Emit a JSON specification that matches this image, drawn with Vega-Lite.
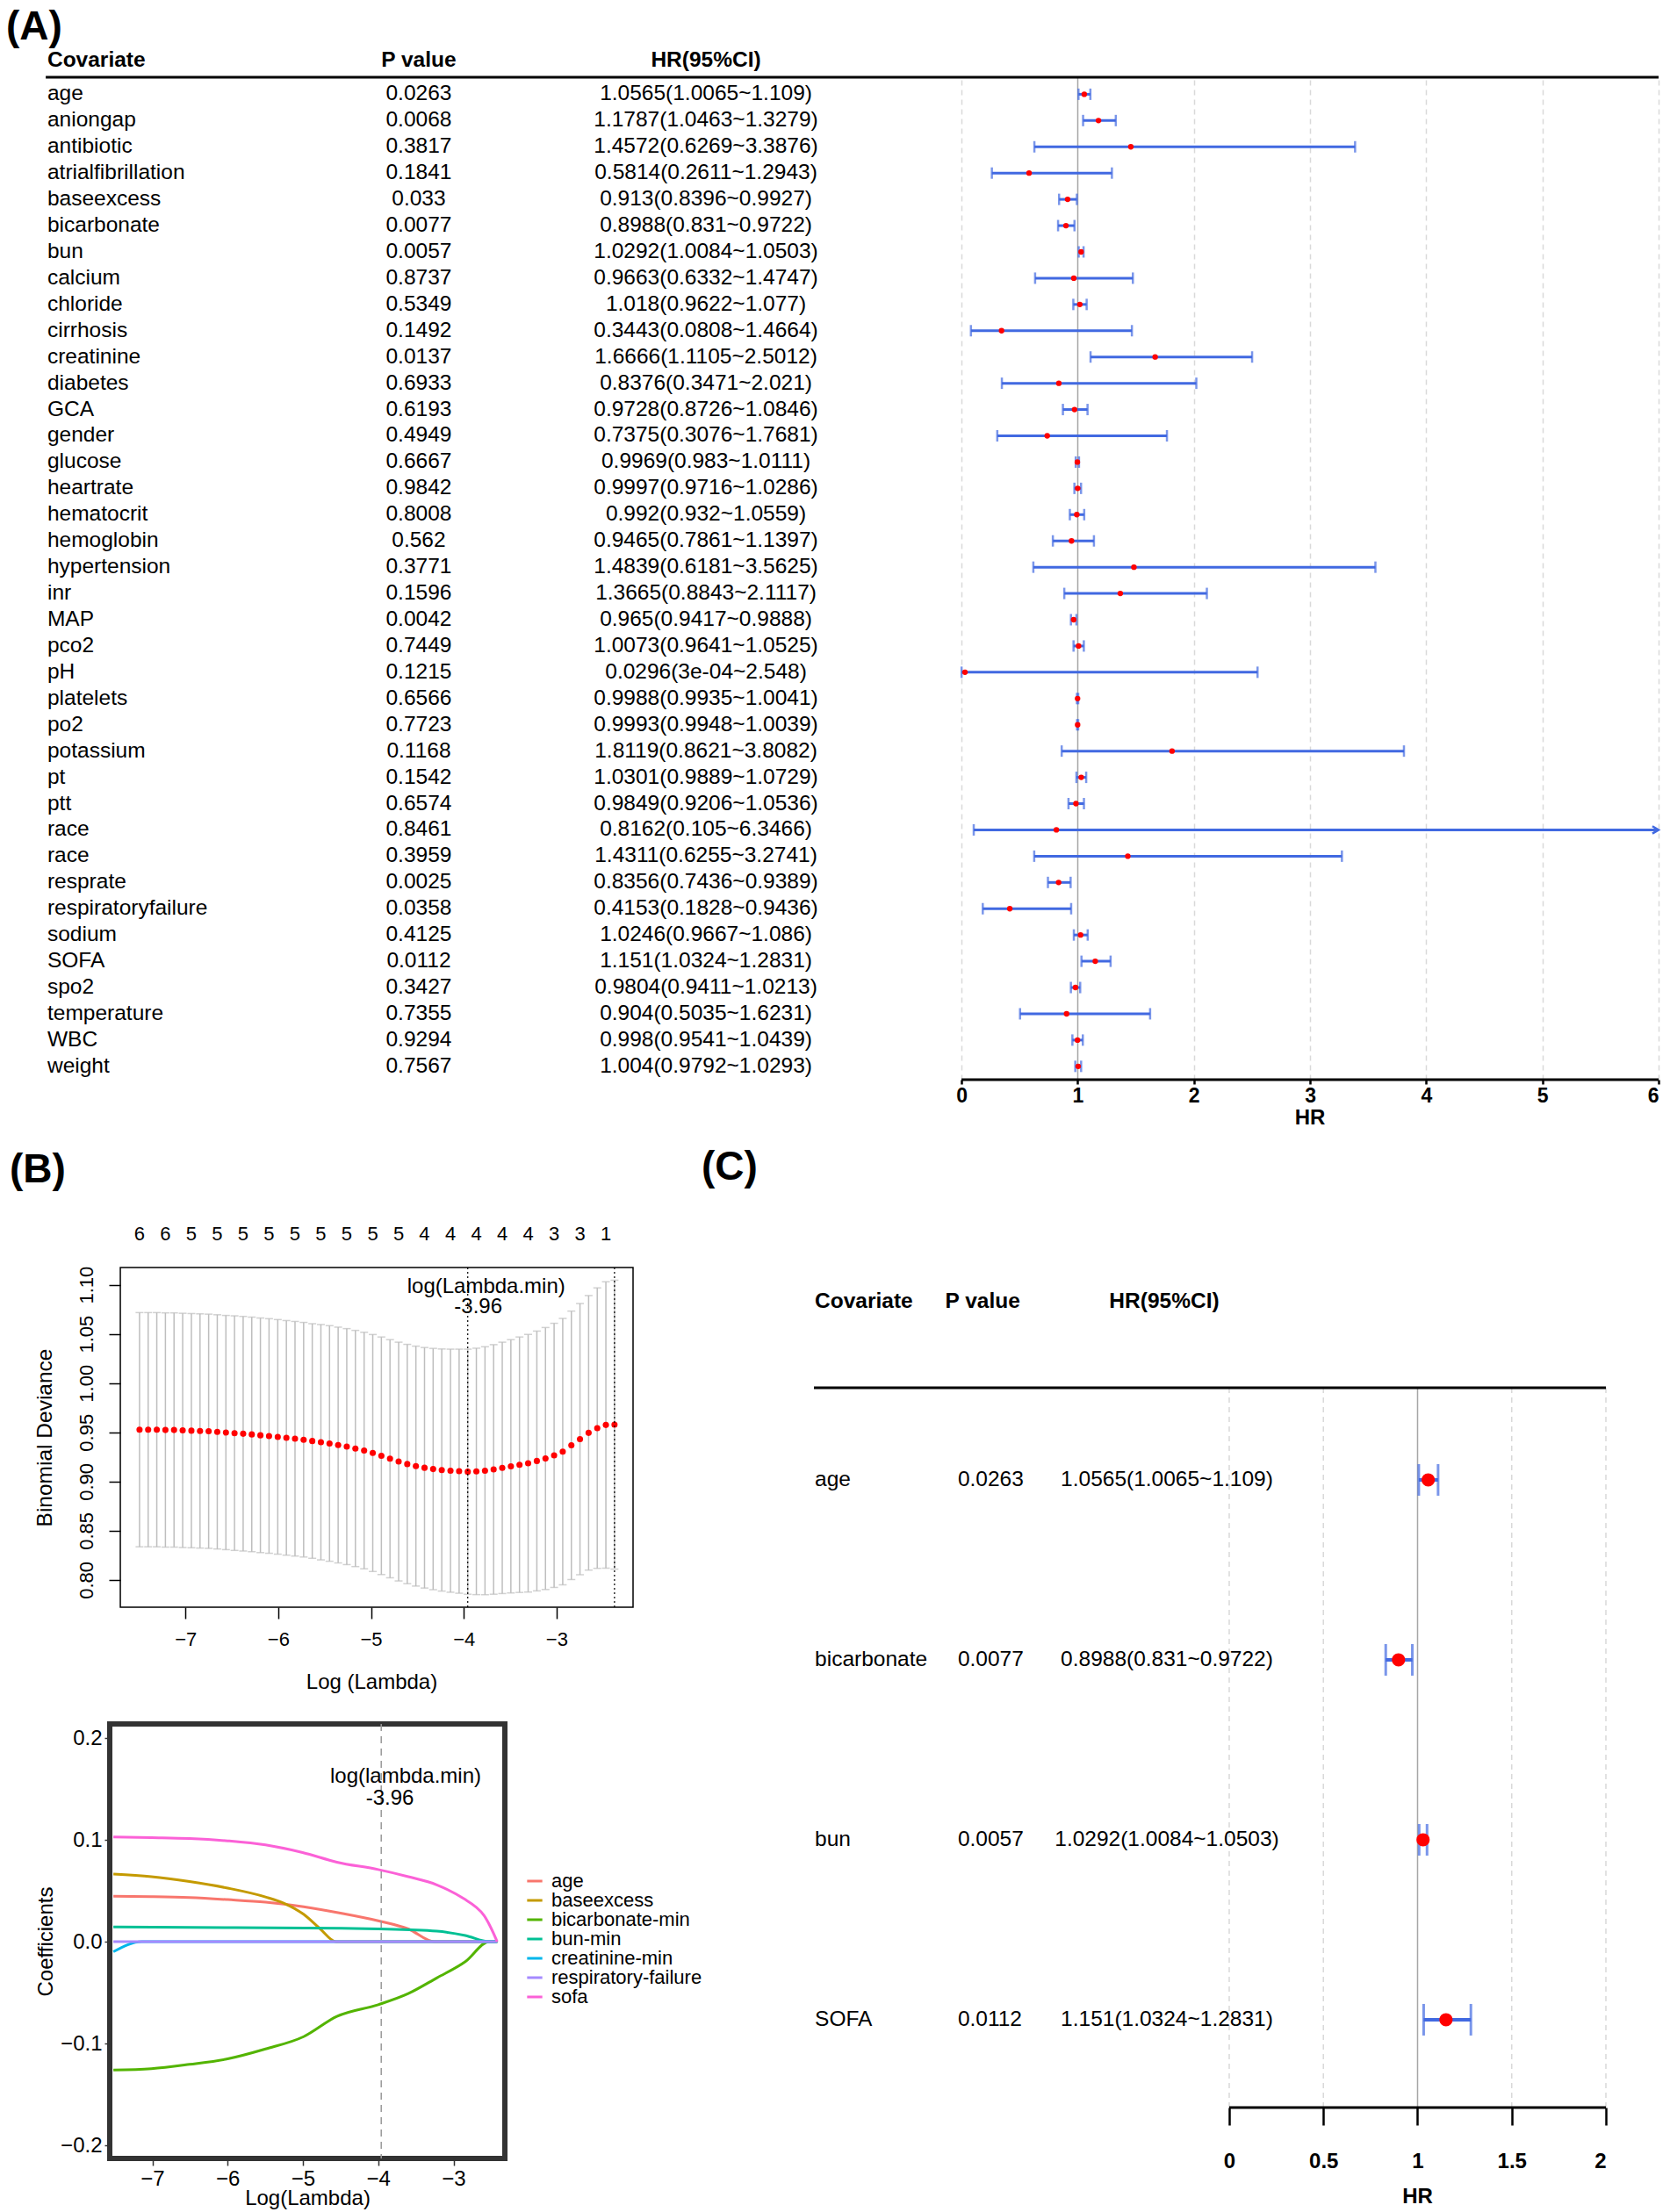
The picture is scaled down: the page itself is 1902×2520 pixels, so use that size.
{
"$schema":"https://vega.github.io/schema/vega-lite/v6.json",
"background":"white",
"padding":{"left":6,"top":7,"right":4,"bottom":4},
"bounds":"flush",
"spacing":802,
"config":{"font":"Liberation Sans","view":{"stroke":null},"axis":{"labelColor":"black","titleColor":"black","tickColor":"black","titleFontWeight":"normal","grid":false},"legend":{"labelColor":"black"}},
"datasets":{
"forestA":[
{"row":1,"cov":"age","p":"0.0263","txt":"1.0565(1.0065~1.109)","hr":1.0565,"lo":1.0065,"hi":1.109},
{"row":2,"cov":"aniongap","p":"0.0068","txt":"1.1787(1.0463~1.3279)","hr":1.1787,"lo":1.0463,"hi":1.3279},
{"row":3,"cov":"antibiotic","p":"0.3817","txt":"1.4572(0.6269~3.3876)","hr":1.4572,"lo":0.6269,"hi":3.3876},
{"row":4,"cov":"atrialfibrillation","p":"0.1841","txt":"0.5814(0.2611~1.2943)","hr":0.5814,"lo":0.2611,"hi":1.2943},
{"row":5,"cov":"baseexcess","p":"0.033","txt":"0.913(0.8396~0.9927)","hr":0.913,"lo":0.8396,"hi":0.9927},
{"row":6,"cov":"bicarbonate","p":"0.0077","txt":"0.8988(0.831~0.9722)","hr":0.8988,"lo":0.831,"hi":0.9722},
{"row":7,"cov":"bun","p":"0.0057","txt":"1.0292(1.0084~1.0503)","hr":1.0292,"lo":1.0084,"hi":1.0503},
{"row":8,"cov":"calcium","p":"0.8737","txt":"0.9663(0.6332~1.4747)","hr":0.9663,"lo":0.6332,"hi":1.4747},
{"row":9,"cov":"chloride","p":"0.5349","txt":"1.018(0.9622~1.077)","hr":1.018,"lo":0.9622,"hi":1.077},
{"row":10,"cov":"cirrhosis","p":"0.1492","txt":"0.3443(0.0808~1.4664)","hr":0.3443,"lo":0.0808,"hi":1.4664},
{"row":11,"cov":"creatinine","p":"0.0137","txt":"1.6666(1.1105~2.5012)","hr":1.6666,"lo":1.1105,"hi":2.5012},
{"row":12,"cov":"diabetes","p":"0.6933","txt":"0.8376(0.3471~2.021)","hr":0.8376,"lo":0.3471,"hi":2.021},
{"row":13,"cov":"GCA","p":"0.6193","txt":"0.9728(0.8726~1.0846)","hr":0.9728,"lo":0.8726,"hi":1.0846},
{"row":14,"cov":"gender","p":"0.4949","txt":"0.7375(0.3076~1.7681)","hr":0.7375,"lo":0.3076,"hi":1.7681},
{"row":15,"cov":"glucose","p":"0.6667","txt":"0.9969(0.983~1.0111)","hr":0.9969,"lo":0.983,"hi":1.0111},
{"row":16,"cov":"heartrate","p":"0.9842","txt":"0.9997(0.9716~1.0286)","hr":0.9997,"lo":0.9716,"hi":1.0286},
{"row":17,"cov":"hematocrit","p":"0.8008","txt":"0.992(0.932~1.0559)","hr":0.992,"lo":0.932,"hi":1.0559},
{"row":18,"cov":"hemoglobin","p":"0.562","txt":"0.9465(0.7861~1.1397)","hr":0.9465,"lo":0.7861,"hi":1.1397},
{"row":19,"cov":"hypertension","p":"0.3771","txt":"1.4839(0.6181~3.5625)","hr":1.4839,"lo":0.6181,"hi":3.5625},
{"row":20,"cov":"inr","p":"0.1596","txt":"1.3665(0.8843~2.1117)","hr":1.3665,"lo":0.8843,"hi":2.1117},
{"row":21,"cov":"MAP","p":"0.0042","txt":"0.965(0.9417~0.9888)","hr":0.965,"lo":0.9417,"hi":0.9888},
{"row":22,"cov":"pco2","p":"0.7449","txt":"1.0073(0.9641~1.0525)","hr":1.0073,"lo":0.9641,"hi":1.0525},
{"row":23,"cov":"pH","p":"0.1215","txt":"0.0296(3e-04~2.548)","hr":0.0296,"lo":0.0003,"hi":2.548},
{"row":24,"cov":"platelets","p":"0.6566","txt":"0.9988(0.9935~1.0041)","hr":0.9988,"lo":0.9935,"hi":1.0041},
{"row":25,"cov":"po2","p":"0.7723","txt":"0.9993(0.9948~1.0039)","hr":0.9993,"lo":0.9948,"hi":1.0039},
{"row":26,"cov":"potassium","p":"0.1168","txt":"1.8119(0.8621~3.8082)","hr":1.8119,"lo":0.8621,"hi":3.8082},
{"row":27,"cov":"pt","p":"0.1542","txt":"1.0301(0.9889~1.0729)","hr":1.0301,"lo":0.9889,"hi":1.0729},
{"row":28,"cov":"ptt","p":"0.6574","txt":"0.9849(0.9206~1.0536)","hr":0.9849,"lo":0.9206,"hi":1.0536},
{"row":29,"cov":"race","p":"0.8461","txt":"0.8162(0.105~6.3466)","hr":0.8162,"lo":0.105,"hi":6.3466},
{"row":30,"cov":"race","p":"0.3959","txt":"1.4311(0.6255~3.2741)","hr":1.4311,"lo":0.6255,"hi":3.2741},
{"row":31,"cov":"resprate","p":"0.0025","txt":"0.8356(0.7436~0.9389)","hr":0.8356,"lo":0.7436,"hi":0.9389},
{"row":32,"cov":"respiratoryfailure","p":"0.0358","txt":"0.4153(0.1828~0.9436)","hr":0.4153,"lo":0.1828,"hi":0.9436},
{"row":33,"cov":"sodium","p":"0.4125","txt":"1.0246(0.9667~1.086)","hr":1.0246,"lo":0.9667,"hi":1.086},
{"row":34,"cov":"SOFA","p":"0.0112","txt":"1.151(1.0324~1.2831)","hr":1.151,"lo":1.0324,"hi":1.2831},
{"row":35,"cov":"spo2","p":"0.3427","txt":"0.9804(0.9411~1.0213)","hr":0.9804,"lo":0.9411,"hi":1.0213},
{"row":36,"cov":"temperature","p":"0.7355","txt":"0.904(0.5035~1.6231)","hr":0.904,"lo":0.5035,"hi":1.6231},
{"row":37,"cov":"WBC","p":"0.9294","txt":"0.998(0.9541~1.0439)","hr":0.998,"lo":0.9541,"hi":1.0439},
{"row":38,"cov":"weight","p":"0.7567","txt":"1.004(0.9792~1.0293)","hr":1.004,"lo":0.9792,"hi":1.0293}
],
"forestC":[
{"row":1,"cov":"age","p":"0.0263","txt":"1.0565(1.0065~1.109)","hr":1.0565,"lo":1.0065,"hi":1.109},
{"row":2,"cov":"bicarbonate","p":"0.0077","txt":"0.8988(0.831~0.9722)","hr":0.8988,"lo":0.831,"hi":0.9722},
{"row":3,"cov":"bun","p":"0.0057","txt":"1.0292(1.0084~1.0503)","hr":1.0292,"lo":1.0084,"hi":1.0503},
{"row":4,"cov":"SOFA","p":"0.0112","txt":"1.151(1.0324~1.2831)","hr":1.151,"lo":1.0324,"hi":1.2831}
],
"gridC":[{"g":0},{"g":0.5},{"g":1},{"g":1.5},{"g":2}],
"lambdaB":[{"v":-3.957},{"v":-2.375}],
"cvB":[
{"x":-7.495,"m":0.9527,"lo":0.8337,"hi":1.0717},
{"x":-7.402,"m":0.9527,"lo":0.8337,"hi":1.0717},
{"x":-7.309,"m":0.9527,"lo":0.8337,"hi":1.0717},
{"x":-7.216,"m":0.9524,"lo":0.8334,"hi":1.0714},
{"x":-7.123,"m":0.9524,"lo":0.8334,"hi":1.0714},
{"x":-7.030,"m":0.9520,"lo":0.8330,"hi":1.0710},
{"x":-6.936,"m":0.9517,"lo":0.8327,"hi":1.0707},
{"x":-6.843,"m":0.9514,"lo":0.8324,"hi":1.0704},
{"x":-6.750,"m":0.9511,"lo":0.8321,"hi":1.0701},
{"x":-6.657,"m":0.9505,"lo":0.8315,"hi":1.0695},
{"x":-6.564,"m":0.9498,"lo":0.8308,"hi":1.0688},
{"x":-6.471,"m":0.9492,"lo":0.8300,"hi":1.0684},
{"x":-6.378,"m":0.9486,"lo":0.8294,"hi":1.0678},
{"x":-6.285,"m":0.9479,"lo":0.8287,"hi":1.0671},
{"x":-6.192,"m":0.9470,"lo":0.8278,"hi":1.0662},
{"x":-6.099,"m":0.9463,"lo":0.8271,"hi":1.0655},
{"x":-6.005,"m":0.9454,"lo":0.8262,"hi":1.0646},
{"x":-5.912,"m":0.9444,"lo":0.8252,"hi":1.0636},
{"x":-5.819,"m":0.9435,"lo":0.8243,"hi":1.0627},
{"x":-5.726,"m":0.9425,"lo":0.8233,"hi":1.0617},
{"x":-5.633,"m":0.9412,"lo":0.8220,"hi":1.0604},
{"x":-5.540,"m":0.9400,"lo":0.8204,"hi":1.0596},
{"x":-5.447,"m":0.9387,"lo":0.8190,"hi":1.0584},
{"x":-5.354,"m":0.9371,"lo":0.8173,"hi":1.0569},
{"x":-5.261,"m":0.9355,"lo":0.8156,"hi":1.0554},
{"x":-5.168,"m":0.9336,"lo":0.8136,"hi":1.0536},
{"x":-5.074,"m":0.9315,"lo":0.8113,"hi":1.0517},
{"x":-4.981,"m":0.9290,"lo":0.8086,"hi":1.0494},
{"x":-4.888,"m":0.9262,"lo":0.8055,"hi":1.0469},
{"x":-4.795,"m":0.9232,"lo":0.8022,"hi":1.0442},
{"x":-4.702,"m":0.9203,"lo":0.7990,"hi":1.0416},
{"x":-4.609,"m":0.9178,"lo":0.7962,"hi":1.0394},
{"x":-4.516,"m":0.9157,"lo":0.7938,"hi":1.0376},
{"x":-4.423,"m":0.9140,"lo":0.7918,"hi":1.0362},
{"x":-4.330,"m":0.9127,"lo":0.7901,"hi":1.0353},
{"x":-4.237,"m":0.9117,"lo":0.7887,"hi":1.0347},
{"x":-4.143,"m":0.9110,"lo":0.7875,"hi":1.0345},
{"x":-4.050,"m":0.9105,"lo":0.7865,"hi":1.0345},
{"x":-3.957,"m":0.9100,"lo":0.7855,"hi":1.0345},
{"x":-3.864,"m":0.9103,"lo":0.7851,"hi":1.0355},
{"x":-3.771,"m":0.9110,"lo":0.7850,"hi":1.0370},
{"x":-3.678,"m":0.9123,"lo":0.7855,"hi":1.0391},
{"x":-3.585,"m":0.9139,"lo":0.7862,"hi":1.0416},
{"x":-3.492,"m":0.9155,"lo":0.7868,"hi":1.0442},
{"x":-3.399,"m":0.9171,"lo":0.7873,"hi":1.0469},
{"x":-3.306,"m":0.9186,"lo":0.7877,"hi":1.0495},
{"x":-3.212,"m":0.9209,"lo":0.7889,"hi":1.0529},
{"x":-3.119,"m":0.9234,"lo":0.7903,"hi":1.0565},
{"x":-3.026,"m":0.9266,"lo":0.7924,"hi":1.0608},
{"x":-2.933,"m":0.9304,"lo":0.7951,"hi":1.0657},
{"x":-2.840,"m":0.9368,"lo":0.8004,"hi":1.0732},
{"x":-2.747,"m":0.9431,"lo":0.8053,"hi":1.0809},
{"x":-2.654,"m":0.9495,"lo":0.8100,"hi":1.0890},
{"x":-2.561,"m":0.9543,"lo":0.8118,"hi":1.0968},
{"x":-2.468,"m":0.9575,"lo":0.8120,"hi":1.1030},
{"x":-2.375,"m":0.9578,"lo":0.8110,"hi":1.1046}
],
"topB":[
{"x":-7.495,"n":"6"},{"x":-7.216,"n":"6"},{"x":-6.936,"n":"5"},{"x":-6.657,"n":"5"},{"x":-6.378,"n":"5"},{"x":-6.099,"n":"5"},{"x":-5.819,"n":"5"},{"x":-5.540,"n":"5"},{"x":-5.261,"n":"5"},{"x":-4.981,"n":"5"},{"x":-4.702,"n":"5"},{"x":-4.423,"n":"4"},{"x":-4.143,"n":"4"},{"x":-3.864,"n":"4"},{"x":-3.585,"n":"4"},{"x":-3.306,"n":"4"},{"x":-3.026,"n":"3"},{"x":-2.747,"n":"3"},{"x":-2.468,"n":"1"}
],
"coefB":[
{"var":"age","x":-7.518,"y":0.0446},{"var":"age","x":-7.013,"y":0.0442},{"var":"age","x":-6.507,"y":0.0433},{"var":"age","x":-6.0,"y":0.0413},{"var":"age","x":-5.497,"y":0.0388},{"var":"age","x":-4.991,"y":0.0343},{"var":"age","x":-4.486,"y":0.0279},{"var":"age","x":-4.0,"y":0.0205},{"var":"age","x":-3.601,"y":0.0125},{"var":"age","x":-3.254,"y":0},{"var":"age","x":-2.42,"y":0},
{"var":"baseexcess","x":-7.518,"y":0.0663},{"var":"baseexcess","x":-7.013,"y":0.0638},{"var":"baseexcess","x":-6.507,"y":0.0590},{"var":"baseexcess","x":-6.0,"y":0.0526},{"var":"baseexcess","x":-5.497,"y":0.0439},{"var":"baseexcess","x":-5.244,"y":0.0375},{"var":"baseexcess","x":-4.991,"y":0.0269},{"var":"baseexcess","x":-4.770,"y":0.0125},{"var":"baseexcess","x":-4.562,"y":0},{"var":"baseexcess","x":-2.42,"y":0},
{"var":"bicarbonate-min","x":-7.518,"y":-0.1260},{"var":"bicarbonate-min","x":-7.013,"y":-0.1247},{"var":"bicarbonate-min","x":-6.507,"y":-0.1205},{"var":"bicarbonate-min","x":-6.0,"y":-0.1151},{"var":"bicarbonate-min","x":-5.497,"y":-0.1054},{"var":"bicarbonate-min","x":-4.991,"y":-0.0933},{"var":"bicarbonate-min","x":-4.549,"y":-0.0734},{"var":"bicarbonate-min","x":-4.0,"y":-0.0619},{"var":"bicarbonate-min","x":-3.601,"y":-0.0510},{"var":"bicarbonate-min","x":-3.222,"y":-0.0356},{"var":"bicarbonate-min","x":-2.843,"y":-0.0196},{"var":"bicarbonate-min","x":-2.527,"y":0},{"var":"bicarbonate-min","x":-2.42,"y":0},
{"var":"bun-min","x":-7.518,"y":0.0144},{"var":"bun-min","x":-6.0,"y":0.0138},{"var":"bun-min","x":-4.486,"y":0.0131},{"var":"bun-min","x":-4.0,"y":0.0125},{"var":"bun-min","x":-3.222,"y":0.0103},{"var":"bun-min","x":-2.843,"y":0.0061},{"var":"bun-min","x":-2.527,"y":0},{"var":"bun-min","x":-2.42,"y":0},
{"var":"creatinine-min","x":-7.518,"y":-0.0099},{"var":"creatinine-min","x":-7.139,"y":0},{"var":"creatinine-min","x":-2.42,"y":0},
{"var":"respiratory-failure","x":-7.518,"y":0},{"var":"respiratory-failure","x":-2.42,"y":0},
{"var":"sofa","x":-7.518,"y":0.1029},{"var":"sofa","x":-7.013,"y":0.1022},{"var":"sofa","x":-6.507,"y":0.1013},{"var":"sofa","x":-6.0,"y":0.0990},{"var":"sofa","x":-5.497,"y":0.0950},{"var":"sofa","x":-5.004,"y":0.0875},{"var":"sofa","x":-4.549,"y":0.0781},{"var":"sofa","x":-4.0,"y":0.0708},{"var":"sofa","x":-3.601,"y":0.0638},{"var":"sofa","x":-3.222,"y":0.0558},{"var":"sofa","x":-2.843,"y":0.0413},{"var":"sofa","x":-2.717,"y":0.0349},{"var":"sofa","x":-2.591,"y":0.0253},{"var":"sofa","x":-2.496,"y":0.0125},{"var":"sofa","x":-2.42,"y":0}
]
},
"hconcat":[
{"vconcat":[
{
"width":1764,"height":1142,
"data":{"name":"forestA"},
"layer":[
{"mark":{"type":"rule","color":"#4169E1","strokeWidth":3,"clip":true},
 "encoding":{
  "x":{"field":"lo","type":"quantitative","scale":{"domain":[-7.332,6],"nice":false,"zero":false},
   "axis":{"values":[0,1,2,3,4,5,6],"format":"d","domain":false,"grid":true,
    "gridDash":{"condition":{"test":"datum.value === 1","value":[1,0]},"value":[6,5]},
    "gridColor":{"condition":{"test":"datum.value === 1","value":"#A6A6A6"},"value":"#D9D9D9"},
    "gridWidth":1.5,"tickSize":5,"tickWidth":2.5,"tickColor":"black","labelFontSize":23,"labelFontWeight":"bold","labelPadding":2,"title":null}},
  "x2":{"field":"hi"},
  "y":{"field":"row","type":"quantitative","scale":{"domain":[0.352,38.507],"reverse":true,"nice":false,"zero":false},"axis":null}}},
{"mark":{"type":"tick","orient":"vertical","color":"#4169E1","size":13,"thickness":2.5},
 "encoding":{"x":{"field":"lo","type":"quantitative"},"y":{"field":"row","type":"quantitative"}}},
{"mark":{"type":"tick","orient":"vertical","color":"#4169E1","size":13,"thickness":2.5,"clip":true},
 "encoding":{"x":{"field":"hi","type":"quantitative"},"y":{"field":"row","type":"quantitative"}}},
{"mark":{"type":"point","filled":true,"color":"#FF0000","size":40,"opacity":1},
 "encoding":{"x":{"field":"hr","type":"quantitative"},"y":{"field":"row","type":"quantitative"}}},
{"transform":[{"filter":"datum.hi > 6"}],
 "mark":{"type":"point","shape":"M -1 -0.6 L 0 0 L -1 0.6","filled":false,"color":"#4169E1","strokeWidth":2.5,"size":200,"opacity":1},
 "encoding":{"x":{"datum":6,"type":"quantitative"},"y":{"field":"row","type":"quantitative"}}},
{"mark":{"type":"text","align":"left","baseline":"middle","fontSize":24.5},
 "encoding":{"x":{"datum":-7.869,"type":"quantitative"},"y":{"field":"row","type":"quantitative"},"text":{"field":"cov"}}},
{"mark":{"type":"text","align":"center","baseline":"middle","fontSize":24.5},
 "encoding":{"x":{"datum":-4.672,"type":"quantitative"},"y":{"field":"row","type":"quantitative"},"text":{"field":"p"}}},
{"mark":{"type":"text","align":"center","baseline":"middle","fontSize":24.5},
 "encoding":{"x":{"datum":-2.2,"type":"quantitative"},"y":{"field":"row","type":"quantitative"},"text":{"field":"txt"}}},
{"data":{"values":[{}]},"mark":{"type":"text","text":"Covariate","align":"left","baseline":"middle","fontSize":24.5,"fontWeight":"bold"},
 "encoding":{"x":{"datum":-7.869,"type":"quantitative"},"y":{"datum":-0.283,"type":"quantitative"}}},
{"data":{"values":[{}]},"mark":{"type":"text","text":"P value","align":"center","baseline":"middle","fontSize":24.5,"fontWeight":"bold"},
 "encoding":{"x":{"datum":-4.672,"type":"quantitative"},"y":{"datum":-0.283,"type":"quantitative"}}},
{"data":{"values":[{}]},"mark":{"type":"text","text":"HR(95%CI)","align":"center","baseline":"middle","fontSize":24.5,"fontWeight":"bold"},
 "encoding":{"x":{"datum":-2.2,"type":"quantitative"},"y":{"datum":-0.283,"type":"quantitative"}}},
{"data":{"values":[{}]},"mark":{"type":"rule","color":"black","strokeWidth":3},
 "encoding":{"x":{"datum":-7.883,"type":"quantitative"},"x2":{"datum":6},"y":{"datum":0.352,"type":"quantitative"}}},
{"data":{"values":[{}]},"mark":{"type":"rule","color":"black","strokeWidth":3},
 "encoding":{"x":{"datum":0,"type":"quantitative"},"x2":{"datum":6},"y":{"datum":38.507,"type":"quantitative"}}},
{"data":{"values":[{}]},"mark":{"type":"text","text":"HR","align":"center","baseline":"middle","fontSize":24,"fontWeight":"bold"},
 "encoding":{"x":{"datum":3,"type":"quantitative"},"y":{"datum":39.99,"type":"quantitative"}}},
{"data":{"values":[{}]},"mark":{"type":"text","text":"(A)","align":"left","baseline":"middle","fontSize":46,"fontWeight":"bold"},
 "encoding":{"x":{"datum":-8.224,"type":"quantitative"},"y":{"datum":-1.563,"type":"quantitative"}}}
]
},
{"vconcat":[
{
"width":596,"height":387,
"data":{"name":"cvB"},
"layer":[
{"mark":{"type":"rule","color":"#BEBEBE","strokeWidth":1.5},
 "encoding":{
  "x":{"field":"x","type":"quantitative","scale":{"domain":[-7.816,-2.175],"nice":false,"zero":false},
   "axis":{"values":[-7,-6,-5,-4,-3],"format":"d","domain":false,"grid":false,"tickSize":13,"tickWidth":1.5,"labelFontSize":22,"labelPadding":13,"title":"Log (Lambda)","titleFontSize":24,"titlePadding":26}},
  "y":{"field":"lo","type":"quantitative","scale":{"domain":[0.7723,1.1175],"nice":false,"zero":false},
   "axis":{"values":[0.8,0.85,0.9,0.95,1.0,1.05,1.1],"format":".2f","labelAngle":270,"labelAlign":"center","labelBaseline":"bottom","domain":false,"grid":false,"offset":-12,"tickSize":13,"tickWidth":1.5,"labelFontSize":22,"labelPadding":14,"title":"Binomial Deviance","titleFontSize":24.5,"titlePadding":24}},
  "y2":{"field":"hi"}}},
{"mark":{"type":"tick","orient":"horizontal","color":"#BEBEBE","size":9,"thickness":1.5},
 "encoding":{"x":{"field":"x","type":"quantitative"},"y":{"field":"lo","type":"quantitative"}}},
{"mark":{"type":"tick","orient":"horizontal","color":"#BEBEBE","size":9,"thickness":1.5},
 "encoding":{"x":{"field":"x","type":"quantitative"},"y":{"field":"hi","type":"quantitative"}}},
{"mark":{"type":"point","filled":true,"color":"#FF0000","size":50,"opacity":1},
 "encoding":{"x":{"field":"x","type":"quantitative"},"y":{"field":"m","type":"quantitative"}}},
{"data":{"name":"lambdaB"},"mark":{"type":"rule","color":"black","strokeWidth":1.2,"strokeDash":[2,3]},
 "encoding":{"x":{"field":"v","type":"quantitative"}}},
{"data":{"values":[{}]},"mark":{"type":"rect","filled":false,"stroke":"black","strokeWidth":1.5},
 "encoding":{"x":{"datum":-7.702,"type":"quantitative"},"x2":{"datum":-2.175},"y":{"datum":0.7723,"type":"quantitative"},"y2":{"datum":1.1175}}},
{"data":{"name":"topB"},"mark":{"type":"text","align":"center","baseline":"middle","fontSize":22},
 "encoding":{"x":{"field":"x","type":"quantitative"},"y":{"datum":1.1513,"type":"quantitative"},"text":{"field":"n"}}},
{"data":{"values":[{}]},"mark":{"type":"text","text":"log(Lambda.min)","align":"center","baseline":"middle","fontSize":24},
 "encoding":{"x":{"datum":-3.758,"type":"quantitative"},"y":{"datum":1.0979,"type":"quantitative"}}},
{"data":{"values":[{}]},"mark":{"type":"text","text":"-3.96","align":"center","baseline":"middle","fontSize":24},
 "encoding":{"x":{"datum":-3.844,"type":"quantitative"},"y":{"datum":1.0777,"type":"quantitative"}}},
{"data":{"values":[{}]},"mark":{"type":"text","text":"(B)","align":"left","baseline":"middle","fontSize":46,"fontWeight":"bold"},
 "encoding":{"x":{"datum":-8.895,"type":"quantitative"},"y":{"datum":1.2164,"type":"quantitative"}}}
]
},
{
"width":450,"height":495,
"view":{"stroke":"#333333","strokeWidth":6},
"layer":[
{"data":{"name":"coefB"},"mark":{"type":"line","strokeWidth":3,"interpolate":"monotone"},
 "encoding":{
  "x":{"field":"x","type":"quantitative","scale":{"domain":[-7.566,-2.318],"nice":false,"zero":false},
   "axis":{"values":[-7,-6,-5,-4,-3],"format":"d","domain":false,"grid":false,"tickSize":8,"tickWidth":1.5,"tickColor":"#333333","labelFontSize":24,"labelPadding":3,"title":"Log(Lambda)","titleFontSize":24,"titlePadding":-2}},
  "y":{"field":"y","type":"quantitative","scale":{"domain":[-0.2129,0.2138],"nice":false,"zero":false},
   "axis":{"values":[-0.2,-0.1,0,0.1,0.2],"format":".1f","domain":false,"grid":false,"tickSize":6,"tickWidth":1.5,"tickColor":"#333333","labelFontSize":24,"labelPadding":3,"title":"Coefficients","titleFontSize":24,"titlePadding":4}},
  "color":{"field":"var","type":"nominal",
   "scale":{"domain":["age","baseexcess","bicarbonate-min","bun-min","creatinine-min","respiratory-failure","sofa"],"range":["#F8766D","#C49A00","#53B400","#00C094","#00B6EB","#A58AFF","#FB61D7"]},
   "legend":{"title":null,"orient":"none","legendX":473,"legendY":2044,"symbolType":"stroke","symbolStrokeWidth":3,"symbolSize":300,"labelFontSize":22,"labelLimit":500,"rowPadding":0,"labelOffset":8,"padding":0}}}},
{"data":{"values":[{}]},"mark":{"type":"rule","color":"#999999","strokeWidth":1.5,"strokeDash":[8,6]},
 "encoding":{"x":{"datum":-3.96,"type":"quantitative"}}},
{"data":{"values":[{}]},"mark":{"type":"text","text":"log(lambda.min)","align":"center","baseline":"middle","fontSize":24},
 "encoding":{"x":{"datum":-3.636,"type":"quantitative"},"y":{"datum":0.1625,"type":"quantitative"}}},
{"data":{"values":[{}]},"mark":{"type":"text","text":"-3.96","align":"center","baseline":"middle","fontSize":24},
 "encoding":{"x":{"datum":-3.845,"type":"quantitative"},"y":{"datum":0.1407,"type":"quantitative"}}}
]
}
],"spacing":133,"bounds":"flush"}
],"spacing":214,"bounds":"flush"},
{
"width":902,"height":2313,
"data":{"name":"forestC"},
"layer":[
{"data":{"name":"gridC"},"mark":{"type":"rule","strokeWidth":1.5},
 "encoding":{
  "x":{"field":"g","type":"quantitative","scale":{"domain":[-2.205,2],"nice":false,"zero":false},
   "axis":{"values":[0,0.5,1,1.5,2],"format":"~g","domain":false,"grid":false,"tickSize":20,"tickWidth":2.5,"tickColor":"black","labelFontSize":24,"labelFontWeight":"bold","labelPadding":29,"title":null}},
  "y":{"datum":0.488,"type":"quantitative","scale":{"domain":[-6.795,4.488],"reverse":true,"nice":false,"zero":false},"axis":null},
  "y2":{"datum":4.488},
  "strokeDash":{"condition":{"test":"datum.g === 1","value":[1,0]},"value":[6,5]},
  "color":{"condition":{"test":"datum.g === 1","value":"#A6A6A6"},"value":"#D9D9D9"}}},
{"mark":{"type":"rule","color":"#4169E1","strokeWidth":4},
 "encoding":{"x":{"field":"lo","type":"quantitative"},"x2":{"field":"hi"},"y":{"field":"row","type":"quantitative"}}},
{"mark":{"type":"tick","orient":"vertical","color":"#4169E1","size":36,"thickness":3},
 "encoding":{"x":{"field":"lo","type":"quantitative"},"y":{"field":"row","type":"quantitative"}}},
{"mark":{"type":"tick","orient":"vertical","color":"#4169E1","size":36,"thickness":3},
 "encoding":{"x":{"field":"hi","type":"quantitative"},"y":{"field":"row","type":"quantitative"}}},
{"mark":{"type":"point","filled":true,"color":"#FF0000","size":230,"opacity":1},
 "encoding":{"x":{"field":"hr","type":"quantitative"},"y":{"field":"row","type":"quantitative"}}},
{"mark":{"type":"text","align":"left","baseline":"middle","fontSize":24.5},
 "encoding":{"x":{"datum":-2.2,"type":"quantitative"},"y":{"field":"row","type":"quantitative"},"text":{"field":"cov"}}},
{"mark":{"type":"text","align":"left","baseline":"middle","fontSize":24.5},
 "encoding":{"x":{"datum":-1.441,"type":"quantitative"},"y":{"field":"row","type":"quantitative"},"text":{"field":"p"}}},
{"mark":{"type":"text","align":"center","baseline":"middle","fontSize":24.5},
 "encoding":{"x":{"datum":-0.331,"type":"quantitative"},"y":{"field":"row","type":"quantitative"},"text":{"field":"txt"}}},
{"data":{"values":[{}]},"mark":{"type":"text","text":"Covariate","align":"left","baseline":"middle","fontSize":24.5,"fontWeight":"bold"},
 "encoding":{"x":{"datum":-2.2,"type":"quantitative"},"y":{"datum":0.01,"type":"quantitative"}}},
{"data":{"values":[{}]},"mark":{"type":"text","text":"P value","align":"left","baseline":"middle","fontSize":24.5,"fontWeight":"bold"},
 "encoding":{"x":{"datum":-1.508,"type":"quantitative"},"y":{"datum":0.01,"type":"quantitative"}}},
{"data":{"values":[{}]},"mark":{"type":"text","text":"HR(95%CI)","align":"center","baseline":"middle","fontSize":24.5,"fontWeight":"bold"},
 "encoding":{"x":{"datum":-0.345,"type":"quantitative"},"y":{"datum":0.01,"type":"quantitative"}}},
{"data":{"values":[{}]},"mark":{"type":"rule","color":"black","strokeWidth":3},
 "encoding":{"x":{"datum":-2.205,"type":"quantitative"},"x2":{"datum":2},"y":{"datum":0.488,"type":"quantitative"}}},
{"data":{"values":[{}]},"mark":{"type":"rule","color":"black","strokeWidth":3},
 "encoding":{"x":{"datum":0,"type":"quantitative"},"x2":{"datum":2},"y":{"datum":4.488,"type":"quantitative"}}},
{"data":{"values":[{}]},"mark":{"type":"text","text":"HR","align":"center","baseline":"middle","fontSize":24,"fontWeight":"bold"},
 "encoding":{"x":{"datum":1,"type":"quantitative"},"y":{"datum":4.985,"type":"quantitative"}}},
{"data":{"values":[{}]},"mark":{"type":"text","text":"(C)","align":"left","baseline":"middle","fontSize":46,"fontWeight":"bold"},
 "encoding":{"x":{"datum":-2.802,"type":"quantitative"},"y":{"datum":-0.737,"type":"quantitative"}}}
]
}
]
}
